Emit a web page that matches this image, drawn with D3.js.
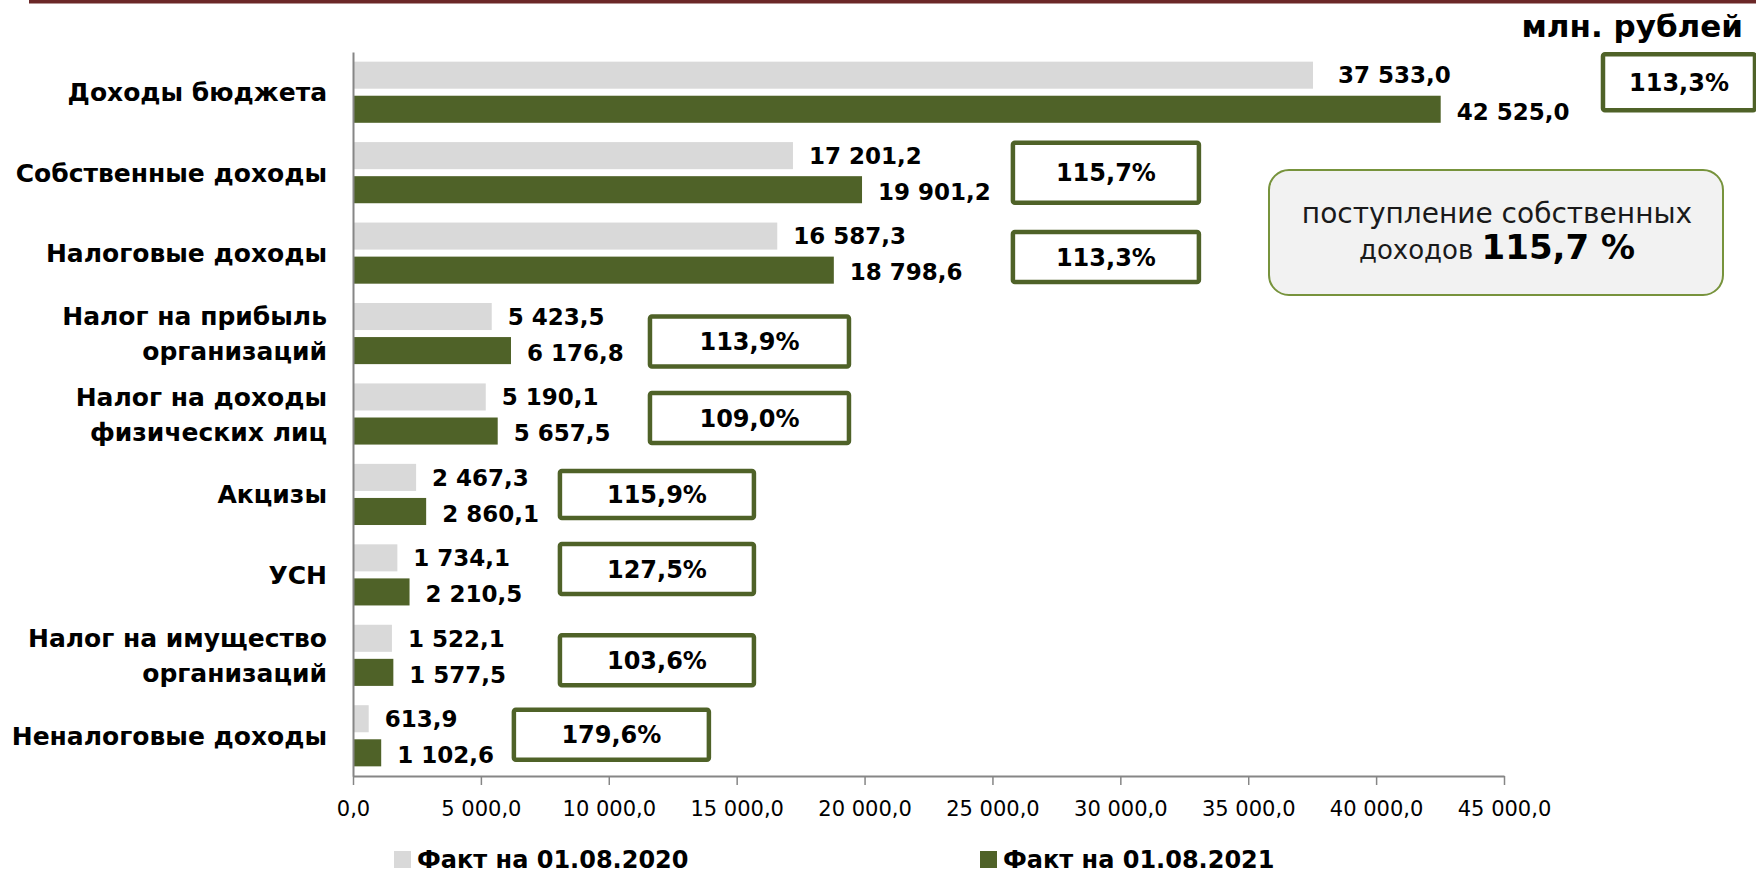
<!DOCTYPE html>
<html lang="ru">
<head>
<meta charset="utf-8">
<script src="https://cdn.jsdelivr.net/npm/d3@7"></script>
<style>
  html, body { margin: 0; padding: 0; background: #ffffff; }
  svg { display: block; font-family: "DejaVu Sans", "Noto Sans", sans-serif; }
</style>
</head>
<body>
<svg id="chart" width="1756" height="874"></svg>
<script>
// ---------------- data ----------------
const categories = [
  "Доходы бюджета",
  "Собственные доходы",
  "Налоговые доходы",
  "Налог на прибыль\nорганизаций",
  "Налог на доходы\nфизических лиц",
  "Акцизы",
  "УСН",
  "Налог на имущество\nорганизаций",
  "Неналоговые доходы"
];
const seriesNames = ["Факт на 01.08.2020", "Факт на 01.08.2021"];
const fact2020 = [37533.0, 17201.2, 16587.3, 5423.5, 5190.1, 2467.3, 1734.1, 1522.1, 613.9];
const fact2021 = [42525.0, 19901.2, 18798.6, 6176.8, 5657.5, 2860.1, 2210.5, 1577.5, 1102.6];
const growthPct = [113.3, 115.7, 113.3, 113.9, 109.0, 115.9, 127.5, 103.6, 179.6];
const xTickValues = [0, 5000, 10000, 15000, 20000, 25000, 30000, 35000, 40000, 45000];
const unitLabel = "млн. рублей";
const noteLines = ["поступление собственных", "доходов"];
const notePct = 115.7;

// ---------------- layout (annotation placement, not data) ----------------
// left edge of each percent box expressed in axis units, box width (px), vertical shift (px), height (px)
const boxLeftAt = [48870, 25800, 25800, 11610, 11610, 8090, 8090, 8090, 6290];
const boxWidth  = [152, 186, 186, 199, 199, 194, 194, 194, 195];
const boxShift  = [-10, 0, 4, 8, 4, 0, -6, 5, -1];
const boxHeight = [56, 60, 50, 50, 50, 47, 50, 50, 50];

const colors = { s2020: "#d9d9d9", s2021: "#4f6228", axis: "#868686", boxStroke: "#4f6228",
                 topRule: "#6b2828", noteFill: "#f2f2f2", noteStroke: "#77933c", text: "#000000" };

const ru = d3.formatLocale({ decimal: ",", thousands: "\u00a0", grouping: [3], currency: ["", ""] });
const fmtVal = ru.format(",.1f");
const fmtPct = v => ru.format(".1f")(v) + "%";

const svg = d3.select("#chart");

// top rule
svg.append("rect").attr("x", 29).attr("y", 0).attr("width", 1756 - 29).attr("height", 3.5)
  .attr("fill", colors.topRule);

// scales
const x = d3.scaleLinear().domain([0, 45000]).range([353, 1504]);
const y = d3.scaleBand().domain(categories).range([52, 776]).paddingInner(0.24).paddingOuter(0.12);
const ySub = d3.scaleBand().domain([0, 1]).range([0, y.bandwidth()]).paddingInner(0.206);

const rows = categories.map((c, i) => ({ c, i, v: [fact2020[i], fact2021[i]], p: growthPct[i] }));

// bars
const g = svg.append("g");
const seriesColor = [colors.s2020, colors.s2021];
rows.forEach(r => {
  [0, 1].forEach(s => {
    g.append("rect")
      .attr("x", x(0))
      .attr("y", y(r.c) + ySub(s))
      .attr("width", x(r.v[s]) - x(0))
      .attr("height", ySub.bandwidth())
      .attr("fill", seriesColor[s]);
  });
});

// value labels
rows.forEach(r => {
  [0, 1].forEach(s => {
    const extra = (r.i === 0 && s === 0) ? 9 : 0;
    const cy = y(r.c) + ySub(s) + ySub.bandwidth() / 2 + (s === 1 ? 2 : 0);
    g.append("text")
      .attr("x", x(r.v[s]) + 16 + extra)
      .attr("y", cy)
      .attr("dy", "0.36em")
      .attr("font-size", 23)
      .attr("font-weight", "bold")
      .attr("fill", colors.text)
      .text(fmtVal(r.v[s]));
  });
});

// x axis
const xAxis = d3.axisBottom(x).tickValues(xTickValues).tickFormat(fmtVal).tickSize(9).tickSizeOuter(0);
const gx = svg.append("g").attr("transform", `translate(0,${776})`).call(xAxis);
gx.select(".domain").attr("stroke", colors.axis).attr("stroke-width", 2);
gx.selectAll(".tick line").attr("stroke", colors.axis).attr("stroke-width", 1.5);
gx.selectAll(".tick text").attr("y", 40).attr("dy", 0)
  .attr("font-size", 21).attr("font-family", "DejaVu Sans").attr("fill", colors.text);

// y axis (category labels)
const yAxis = d3.axisLeft(y).tickSize(0).tickPadding(26);
const gy = svg.append("g").attr("transform", `translate(${x(0)},0)`).call(yAxis);
gy.select(".domain").attr("stroke", colors.axis).attr("stroke-width", 2);
gy.selectAll(".tick text").each(function(d) {
  const t = d3.select(this);
  const lines = d.split("\n");
  t.text(null).attr("font-size", 25).attr("font-weight", "bold").attr("font-family", "DejaVu Sans")
    .attr("fill", colors.text).attr("dy", null).attr("y", 0);
  lines.forEach((ln, k) => {
    t.append("tspan").attr("x", -26)
      .attr("y", (k - (lines.length - 1) / 2) * 35)
      .attr("dy", "0.36em")
      .text(ln);
  });
});

// percent boxes
rows.forEach(r => {
  const cx0 = x(boxLeftAt[r.i]);
  const cy = y(r.c) + y.bandwidth() / 2 + boxShift[r.i];
  const h = boxHeight[r.i], w = boxWidth[r.i];
  svg.append("rect")
    .attr("x", cx0).attr("y", cy - h / 2).attr("width", w).attr("height", h)
    .attr("rx", 2)
    .attr("fill", "#ffffff").attr("stroke", colors.boxStroke).attr("stroke-width", 4.5);
  svg.append("text")
    .attr("x", cx0 + w / 2).attr("y", cy).attr("dy", "0.36em")
    .attr("text-anchor", "middle").attr("font-size", 24).attr("font-weight", "bold")
    .attr("fill", colors.text).text(fmtPct(r.p));
});

// unit label
svg.append("text").attr("x", 1743).attr("y", 37).attr("text-anchor", "end")
  .attr("font-size", 31).attr("font-weight", "bold").attr("fill", colors.text).text(unitLabel);

// note box
svg.append("rect").attr("x", 1269).attr("y", 170).attr("width", 454).attr("height", 125).attr("rx", 20)
  .attr("fill", colors.noteFill).attr("stroke", colors.noteStroke).attr("stroke-width", 2);
svg.append("text").attr("x", 1497).attr("y", 213).attr("dy", "0.36em").attr("text-anchor", "middle")
  .attr("font-size", 28).attr("fill", "#1a1a1a").text(noteLines[0]);
const t2 = svg.append("text").attr("x", 1497).attr("y", 253).attr("dy", "0.36em").attr("text-anchor", "middle")
  .attr("fill", "#1a1a1a");
t2.append("tspan").attr("font-size", 26).text(noteLines[1] + " ");
t2.append("tspan").attr("font-size", 34).attr("font-weight", "bold").attr("fill", "#000")
  .text(ru.format(".1f")(notePct) + " %");

// legend
const legendX = [394, 980];
seriesNames.forEach((name, s) => {
  svg.append("rect").attr("x", legendX[s]).attr("y", 851).attr("width", 17).attr("height", 17)
    .attr("fill", seriesColor[s]);
  svg.append("text").attr("x", legendX[s] + 23).attr("y", 859).attr("dy", "0.36em")
    .attr("font-size", 24).attr("font-weight", "bold").attr("fill", colors.text).text(name);
});
</script>
</body>
</html>
